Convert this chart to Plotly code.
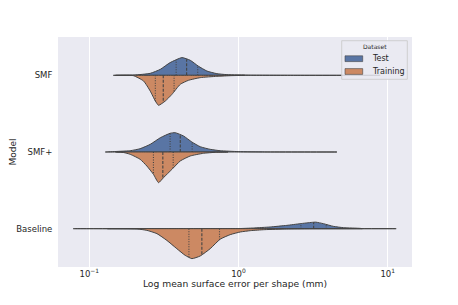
import numpy as np
import plotly.graph_objects as go

models = ["SMF", "SMF+", "Baseline"]
datasets = ["Test", "Training"]

# Density profiles: x = error (mm), w = half-width (category units)
smf_test_x = [0.145, 0.20, 0.256, 0.299, 0.348, 0.418, 0.475, 0.537, 0.614, 0.716, 0.836, 1.2, 2.5, 8.9]
smf_test_w = [0, 0.004, 0.026, 0.078, 0.166, 0.231, 0.196, 0.121, 0.056, 0.022, 0.009, 0.003, 0.001, 0]
smf_train_x = [0.15, 0.197, 0.231, 0.256, 0.277, 0.291, 0.323, 0.358, 0.407, 0.462, 0.554, 0.716, 0.9, 1.1]
smf_train_w = [0, 0.004, 0.074, 0.205, 0.335, 0.391, 0.335, 0.248, 0.117, 0.065, 0.030, 0.013, 0.004, 0]

smfp_test_x = [0.128, 0.188, 0.219, 0.256, 0.299, 0.348, 0.376, 0.428, 0.487, 0.554, 0.646, 0.754, 1.0, 1.5, 4.57]
smfp_test_w = [0, 0.017, 0.043, 0.100, 0.186, 0.244, 0.252, 0.209, 0.130, 0.069, 0.035, 0.017, 0.005, 0.001, 0]
smfp_train_x = [0.15, 0.170, 0.188, 0.219, 0.243, 0.269, 0.291, 0.314, 0.358, 0.407, 0.475, 0.582, 0.70, 0.85]
smfp_train_w = [0, 0.007, 0.030, 0.095, 0.183, 0.291, 0.400, 0.335, 0.226, 0.117, 0.052, 0.017, 0.004, 0]

base_test_x = [0.078, 0.5, 1.0, 1.26, 1.63, 2.11, 2.59, 3.10, 3.3, 3.71, 4.33, 5.06, 6.54, 6.75]
base_test_w = [0, 0, 0.001, 0.009, 0.022, 0.043, 0.065, 0.082, 0.085, 0.065, 0.030, 0.013, 0.004, 0]
base_train_x = [0.132, 0.209, 0.243, 0.284, 0.331, 0.386, 0.439, 0.487, 0.554, 0.646, 0.754, 0.88, 1.03, 1.20, 1.5, 2.1, 3.0, 11.4]
base_train_w = [0, 0.004, 0.022, 0.065, 0.153, 0.261, 0.348, 0.391, 0.356, 0.261, 0.137, 0.078, 0.043, 0.026, 0.013, 0.004, 0.001, 0]

# Quartiles (Q1, median, Q3) in mm
smf_test_q = [0.382, 0.449, 0.533]
smf_train_q = [0.277, 0.313, 0.370]
smfp_test_q = [0.348, 0.407, 0.489]
smfp_train_q = [0.269, 0.311, 0.365]
base_test_q = [2.62, 3.19, 3.87]
base_train_q = [0.465, 0.568, 0.746]

x_tick_vals = [0.1, 1, 10]
x_tick_text = ["10<sup>\u22121</sup>", "10<sup>0</sup>", "10<sup>1</sup>"]

colors = {"Test": "#5975a4", "Training": "#cc8963"}
edge = "#444444"
font_color = "#262626"

halves = [
    (0, "Test", smf_test_x, smf_test_w, smf_test_q),
    (0, "Training", smf_train_x, smf_train_w, smf_train_q),
    (1, "Test", smfp_test_x, smfp_test_w, smfp_test_q),
    (1, "Training", smfp_train_x, smfp_train_w, smfp_train_q),
    (2, "Test", base_test_x, base_test_w, base_test_q),
    (2, "Training", base_train_x, base_train_w, base_train_q),
]

fig = go.Figure()
for pos, ds, xs, ws, qs in halves:
    sign = -1 if ds == "Test" else 1
    xs = np.array(xs, dtype=float)
    ws = np.array(ws, dtype=float)
    px = np.concatenate([xs, xs[::-1]])
    py = np.concatenate([pos + sign * ws, np.full(len(xs), pos)])
    fig.add_trace(go.Scatter(
        x=px, y=py, mode="lines", fill="toself", fillcolor=colors[ds],
        line=dict(color=edge, width=1, shape="spline", smoothing=0.5),
        name=ds, showlegend=False, hoverinfo="skip"))
    lx = np.log10(xs)
    for i, q in enumerate(qs):
        wq = np.interp(np.log10(q), lx, ws)
        fig.add_trace(go.Scatter(
            x=[q, q], y=[pos, pos + sign * wq], mode="lines",
            line=dict(color=edge, width=1.1, dash="3px,1.5px" if i == 1 else "1px,1.5px"),
            showlegend=False, hoverinfo="skip"))

# page body adds an 8px offset; margins compensate
ML, MR, MT, MB = 50, 54, 29, 46
W, H = 458, 305
PW, PH = W - ML - MR, H - MT - MB


def xp(fx):
    return (fx - ML) / PW


def yp(fy):
    return (MT + PH - fy) / PH


# Legend (drawn as shapes + text)
shapes = [dict(type="rect", xref="paper", yref="paper",
               x0=xp(333.7), x1=xp(399.3), y0=yp(71.3), y1=yp(32.7),
               fillcolor="rgba(234,234,242,0.85)", line=dict(color="rgba(204,204,204,0.9)", width=1),
               layer="above")]
annotations = [dict(text="Dataset", xref="paper", yref="paper", x=xp(367), y=yp(38.7),
                    showarrow=False, xanchor="center", yanchor="middle",
                    font=dict(size=6, color=font_color))]
for k, ds in enumerate(datasets):
    cy = 50.7 + 12.8 * k
    shapes.append(dict(type="rect", xref="paper", yref="paper",
                       x0=xp(337), x1=xp(354.7), y0=yp(cy + 2.9), y1=yp(cy - 2.9),
                       fillcolor=colors[ds], line=dict(color=edge, width=0.6), layer="above"))
    annotations.append(dict(text=ds, xref="paper", yref="paper", x=xp(361.5), y=yp(cy),
                            showarrow=False, xanchor="left", yanchor="middle",
                            font=dict(size=8, color=font_color)))

fig.update_layout(
    width=W, height=H,
    margin=dict(l=ML, r=MR, t=MT, b=MB),
    paper_bgcolor="white", plot_bgcolor="#EAEAF2",
    font=dict(family="DejaVu Sans", size=8, color=font_color),
    showlegend=False,
    shapes=shapes, annotations=annotations,
    xaxis=dict(
        type="log", range=[-1.21, 1.163], tickvals=x_tick_vals, ticktext=x_tick_text,
        showgrid=True, gridcolor="white", gridwidth=1, zeroline=False, showline=False,
        ticks="", tickfont=dict(size=8.5), automargin=False,
        title=dict(text="Log mean surface error per shape (mm)", font=dict(size=9.2), standoff=3),
    ),
    yaxis=dict(
        range=[2.5, -0.5], tickvals=[0, 1, 2], ticktext=models, showgrid=False,
        zeroline=False, showline=False, ticks="outside", ticklen=3, tickcolor="rgba(0,0,0,0)",
        tickfont=dict(size=8.5), automargin=False,
        title=dict(text="Model", font=dict(size=9), standoff=43),
    ),
)

fig.write_html("out.html")
